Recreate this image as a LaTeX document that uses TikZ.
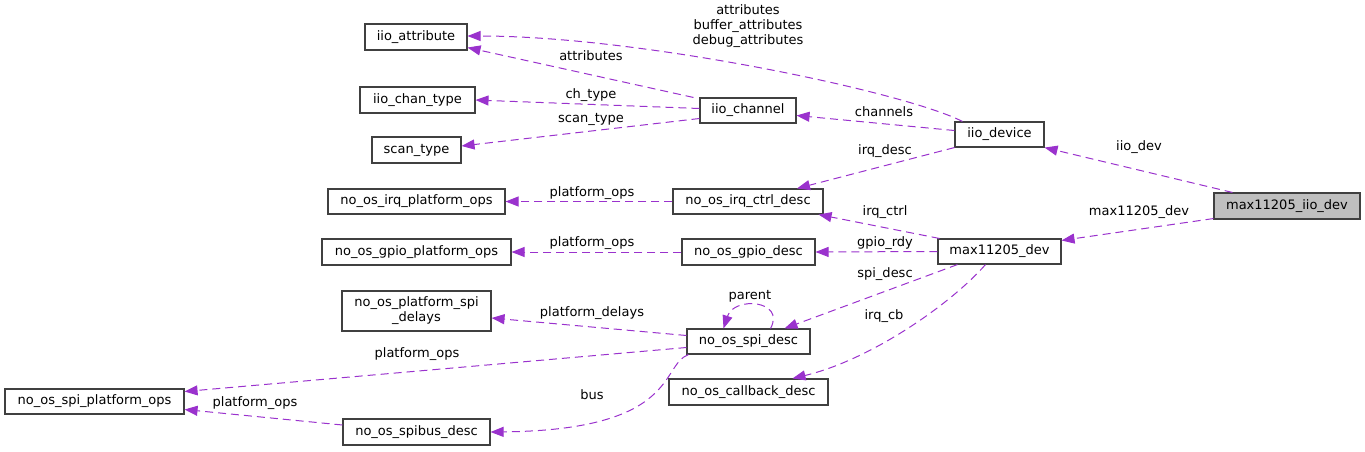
\documentclass[tikz,border=0pt]{standalone}
\usepackage{fontspec}
\setmainfont{DejaVu Sans}
\usetikzlibrary{positioning, arrows.meta, calc}
\definecolor{membpurple}{RGB}{154,50,205}
\definecolor{rootgray}{RGB}{191,191,191}
\tikzset{
    classbox/.style={rectangle, draw=black!75, fill=white, line width=1.1pt, minimum height=26pt, inner sep=0pt, align=center, font=\fontsize{13}{15}\selectfont},
    rootbox/.style={classbox, fill=rootgray},
    memb/.style={-{Triangle[length=13pt, width=10pt]}, line width=1pt, color=membpurple, dash pattern=on 8pt off 5pt},
    mlbl/.style={font=\fontsize{13}{15}\selectfont, text=black, inner sep=0pt, align=center}
}
\begin{document}
\begin{tikzpicture}[x=1pt, y=-1pt]
    \useasboundingbox (0,0) rectangle (1365,451);
    % class boxes
    \node[classbox, minimum width=102pt] (attr) at (416,37) {iio\_attribute};
    \node[classbox, minimum width=115pt] (chantype) at (417.5,100) {iio\_chan\_type};
    \node[classbox, minimum width=89pt] (scantype) at (416.5,150) {scan\_type};
    \node[classbox, minimum width=96pt, minimum height=25pt] (channel) at (748,110.5) {iio\_channel};
    \node[classbox, minimum width=89pt, minimum height=25pt] (device) at (999.5,134.5) {iio\_device};
    \node[rootbox, minimum width=146pt] (iiodev) at (1287,206) {max11205\_iio\_dev};
    \node[classbox, minimum width=123pt, minimum height=25pt] (maxdev) at (999.5,251.5) {max11205\_dev};
    \node[classbox, minimum width=177pt, minimum height=25pt] (irqpops) at (416.5,201.5) {no\_os\_irq\_platform\_ops};
    \node[classbox, minimum width=189pt] (gpiopops) at (416.5,252) {no\_os\_gpio\_platform\_ops};
    \node[classbox, minimum width=149pt, minimum height=40pt] (spidelays) at (416.5,311) {no\_os\_platform\_spi\\\_delays};
    \node[classbox, minimum width=179pt, minimum height=25pt] (spipops) at (94.5,401.5) {no\_os\_spi\_platform\_ops};
    \node[classbox, minimum width=147pt] (spibus) at (416.5,432) {no\_os\_spibus\_desc};
    \node[classbox, minimum width=150pt, minimum height=25pt] (irqctrl) at (748,201.5) {no\_os\_irq\_ctrl\_desc};
    \node[classbox, minimum width=133pt] (gpiodesc) at (748.5,252) {no\_os\_gpio\_desc};
    \node[classbox, minimum width=123pt, minimum height=25pt] (spidesc) at (748.5,341.5) {no\_os\_spi\_desc};
    \node[classbox, minimum width=159pt] (cbdesc) at (748.5,392) {no\_os\_callback\_desc};
    % members
    \draw[memb] ([xshift=8pt]device.north west) .. controls (905,92) and (640,36) .. ([yshift=1pt]attr.east)
        node[mlbl] at (748,26) {attributes\\buffer\_attributes\\debug\_attributes};
    \draw[memb] ([xshift=-6pt]channel.north west) -- ([yshift=3pt]attr.south east)
        node[mlbl] at (591,56) {attributes};
    \draw[memb] ([yshift=2pt]channel.west) -- (chantype.east)
        node[mlbl] at (591,95) {ch\_type};
    \draw[memb] ([yshift=-8pt]channel.west) -- ([yshift=4pt]scantype.east)
        node[mlbl] at (591,119) {scan\_type};
    \draw[memb] ([yshift=4pt]device.west) -- ([yshift=-5pt]channel.east)
        node[mlbl] at (884,112) {channels};
    \draw[memb] (device.south west) -- ([xshift=49pt]irqctrl.north)
        node[mlbl] at (885,151) {irq\_desc};
    \draw[memb] ([xshift=19pt]iiodev.north west) -- (device.south east)
        node[mlbl] at (1139,147) {iio\_dev};
    \draw[memb] ([yshift=1pt]iiodev.south west) -- ([yshift=-2pt]maxdev.north east)
        node[mlbl] at (1139,212) {max11205\_dev};
    \draw[memb] (irqctrl.west) -- (irqpops.east)
        node[mlbl] at (592,193) {platform\_ops};
    \draw[memb] ([xshift=2pt]maxdev.north west) -- ([xshift=-5pt]irqctrl.south east)
        node[mlbl] at (885,212) {irq\_ctrl};
    \draw[memb] (gpiodesc.west) -- (gpiopops.east)
        node[mlbl] at (592,243) {platform\_ops};
    \draw[memb] (maxdev.west) -- (gpiodesc.east)
        node[mlbl] at (885,243) {gpio\_rdy};
    \draw[memb] ([xshift=-42pt]maxdev.south) -- ([xshift=36pt]spidesc.north)
        node[mlbl] at (885,274) {spi\_desc};
    \draw[memb] ([xshift=22pt]spidesc.north) .. controls (786,300) and (734,296) .. ([xshift=-25pt]spidesc.north)
        node[mlbl] at (750,296) {parent};
    \draw[memb] ([yshift=6pt]spidesc.west) -- ([yshift=-7pt]spidelays.east)
        node[mlbl] at (592,313) {platform\_delays};
    \draw[memb] ([yshift=-6pt]spidesc.west) -- ([yshift=10pt]spipops.east)
        node[mlbl] at (417,354) {platform\_ops};
    \draw[memb] ([xshift=2pt]spidesc.south west) .. controls (660,365) and (680,430) .. (spibus.east)
        node[mlbl] at (592,395) {bus};
    \draw[memb] ([xshift=-14pt]maxdev.south) .. controls (950,305) and (870,360) .. ([xshift=44pt]cbdesc.north)
        node[mlbl] at (884,316) {irq\_cb};
    \draw[memb] ([yshift=7pt]spibus.west) -- ([yshift=-8pt]spipops.east)
        node[mlbl] at (255,403) {platform\_ops};
\end{tikzpicture}
\end{document}
